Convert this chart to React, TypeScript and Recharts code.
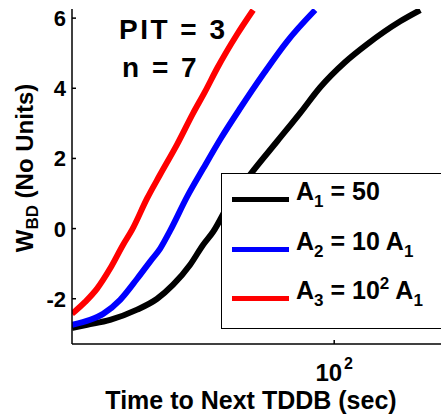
import { Line, LineChart, XAxis, YAxis } from "recharts";

/* ===== Data ===== */
const tBlack = [20.0, 21.95, 25.27, 29.83, 33.73, 37.21, 41.3, 44.74, 47.57, 52.81, 59.7, 70.47, 81.2, 91.77, 107.0, 122.5, 150.0, 169.6];
const wBlack = [-2.83, -2.74, -2.6, -2.31, -2.0, -1.6, -1.03, -0.46, -0.09, 0.77, 1.54, 2.49, 3.3, 4.03, 4.75, 5.26, 5.91, 6.23];

const tBlue = [20.0, 22.36, 24.21, 26.88, 29.83, 32.3, 34.36, 36.53, 40.55, 44.74, 49.66, 56.15, 64.67, 74.93, 88.97];
const wBlue = [-2.74, -2.6, -2.43, -2.03, -1.43, -0.94, -0.57, -0.06, 0.91, 1.71, 2.54, 3.43, 4.4, 5.34, 6.23];

const tRed = [20.0, 21.68, 23.33, 25.27, 27.37, 28.93, 31.71, 34.36, 38.13, 42.07, 45.29, 48.75, 55.12, 60.81];
const wRed = [-2.43, -2.09, -1.71, -1.14, -0.46, -0.03, 0.86, 1.54, 2.4, 3.29, 3.91, 4.57, 5.54, 6.23];

const xTicks = [100];
const yTicks = [-2, 0, 2, 4, 6];
const xDomain = [20, 195];
const yDomain = [-3.29, 6.26];

const toRows = (t: number[], w: number[]) => t.map((v, i) => ({ t: v, w: w[i] }));

const series = [
  { key: "a1", color: "#000000", data: toRows(tBlack, wBlack), label: ["A", "1", " = 50", "", ""] },
  { key: "a2", color: "#0000FF", data: toRows(tBlue, wBlue), label: ["A", "2", " = 10 A", "", "1"] },
  { key: "a3", color: "#FF0000", data: toRows(tRed, wRed), label: ["A", "3", " = 10", "2", " A", "1"] },
];

const FONT = "'Liberation Sans', Arial, Helvetica, sans-serif";

/* ===== Ticks ===== */
const YTick = ({ x, y, payload }: any) => (
  <text x={x} y={y} dy={8} textAnchor="end" fontFamily={FONT} fontWeight="bold" fontSize={22} fill="#000">
    {payload.value}
  </text>
);

const XTick = ({ x, y, payload }: any) => {
  const exp = Math.round(Math.log10(payload.value));
  return (
    <text x={x} y={y} textAnchor="middle" fontFamily={FONT} fontWeight="bold" fontSize={24} fill="#000">
      10
      <tspan dx={2} dy={-12} fontSize={16}>
        {exp}
      </tspan>
    </text>
  );
};

export default function App() {
  return (
    <div style={{ position: "absolute", left: 0, top: 0, width: 441, height: 418, overflow: "hidden", background: "#fff" }}>
      <LineChart width={460} height={418} margin={{ top: 9, right: 17, bottom: 0, left: 0 }}>
        <XAxis
          dataKey="t"
          type="number"
          scale="log"
          domain={xDomain}
          allowDataOverflow
          ticks={xTicks}
          height={74}
          tickSize={-4}
          tickMargin={41}
          stroke="#000"
          strokeWidth={1.5}
          tick={<XTick />}
        />
        <XAxis
          xAxisId="top"
          orientation="top"
          type="number"
          scale="log"
          domain={xDomain}
          allowDataOverflow
          ticks={xTicks}
          height={0}
          tickSize={-4}
          tick={false}
          stroke="#000"
          strokeWidth={1.2}
        />
        <YAxis
          dataKey="w"
          type="number"
          domain={yDomain}
          allowDataOverflow
          ticks={yTicks}
          width={72}
          tickSize={-4}
          tickMargin={10}
          stroke="#000"
          strokeWidth={1.5}
          tick={<YTick />}
        />
        <YAxis
          yAxisId="right"
          orientation="right"
          type="number"
          domain={yDomain}
          allowDataOverflow
          ticks={yTicks}
          width={0}
          tickSize={-4}
          tick={false}
          stroke="#000"
          strokeWidth={1.2}
        />
        {series.map((s) => (
          <Line
            key={s.key}
            data={s.data}
            dataKey="w"
            type="monotone"
            stroke={s.color}
            strokeWidth={6}
            dot={false}
            activeDot={false}
            isAnimationActive={false}
          />
        ))}
      </LineChart>

      {/* Labels and annotations */}
      <svg width={441} height={418} style={{ position: "absolute", left: 0, top: 0, pointerEvents: "none" }}>
        <g fontFamily={FONT} fontWeight="bold" fill="#000">
          <text x={119} y={39} fontSize={28} letterSpacing={2.5}>
            PIT = 3
          </text>
          <text x={122} y={77} fontSize={28} letterSpacing={2.5}>
            n = 7
          </text>
          <text x={251} y={409} fontSize={25} textAnchor="middle">
            Time to Next TDDB (sec)
          </text>
          <text transform="translate(33,168) rotate(-90)" fontSize={24} textAnchor="middle">
            W
            <tspan fontSize={17} dy={5}>
              BD
            </tspan>
            <tspan dy={-5}> (No Units)</tspan>
          </text>
        </g>
      </svg>

      {/* Legend */}
      <div
        style={{
          position: "absolute",
          left: 221,
          top: 173,
          width: 240,
          height: 154,
          border: "1.5px solid #000",
          background: "#fff",
          fontFamily: FONT,
          fontWeight: "bold",
        }}
      >
        {series.map((s, i) => (
          <div key={s.key} style={{ position: "absolute", left: 0, top: 23 + i * 49.5, height: 0 }}>
            <div style={{ position: "absolute", left: 10, top: 0, width: 57, height: 5, background: s.color }} />
            <div style={{ position: "absolute", left: 74, top: -21, fontSize: 25, lineHeight: "30px", whiteSpace: "nowrap" }}>
              {s.label[0]}
              <sub style={{ fontSize: 17, verticalAlign: "-7px", lineHeight: 0 }}>{s.label[1]}</sub>
              {s.label[2]}
              {s.label.length === 6 ? (
                <>
                  <sup style={{ fontSize: 17, verticalAlign: "10px", lineHeight: 0 }}>{s.label[3]}</sup>
                  {s.label[4]}
                  <sub style={{ fontSize: 17, verticalAlign: "-7px", lineHeight: 0 }}>{s.label[5]}</sub>
                </>
              ) : (
                <sub style={{ fontSize: 17, verticalAlign: "-7px", lineHeight: 0 }}>{s.label[4]}</sub>
              )}
            </div>
          </div>
        ))}
      </div>
    </div>
  );
}
